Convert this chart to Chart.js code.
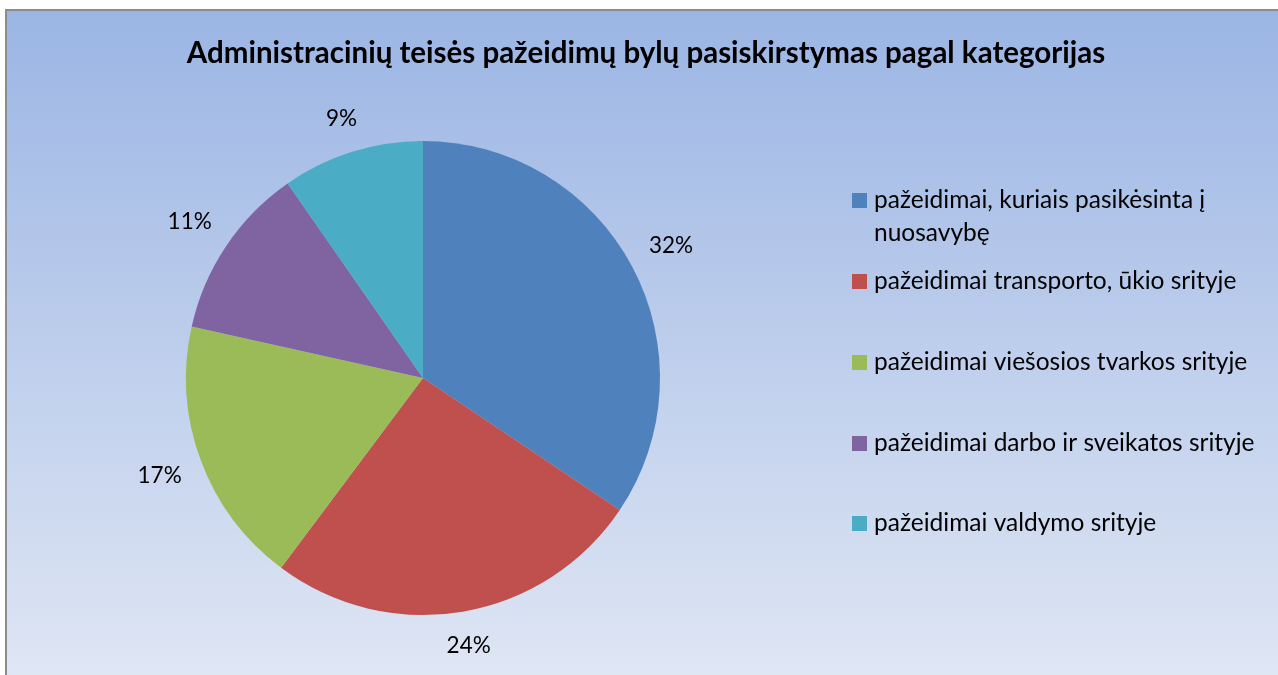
<!DOCTYPE html>
<html>
<head>
<meta charset="utf-8">
<script src="https://cdn.jsdelivr.net/npm/chart.js@4"></script>
<style>
    html, body { margin: 0; padding: 0; background: #fff; overflow: hidden; }
    #wrap { width: 1278px; height: 675px; }
</style>
</head>
<body>
<div id="wrap"><canvas id="pieChart" width="1278" height="675"></canvas></div>
<script>
// chart data
const chartTitle = 'Administracinių teisės pažeidimų bylų pasiskirstymas pagal kategorijas';
const categories = [
    ['pažeidimai, kuriais pasikėsinta į', 'nuosavybę'],
    'pažeidimai transporto, ūkio srityje',
    'pažeidimai viešosios tvarkos srityje',
    'pažeidimai darbo ir sveikatos srityje',
    'pažeidimai valdymo srityje'
];
const shares = [32, 24, 17, 11, 9];
const sliceColors = ['#4f81bd', '#c0504d', '#9bbb59', '#8064a2', '#4bacc6'];

const FONT = 'Lato, "Liberation Sans", sans-serif';

// background with gradient and the grey frame
const frame = {
    id: 'frame',
    beforeDraw (chart) {
        const ctx = chart.ctx;
        const w = chart.width, h = chart.height;
        ctx.save();
        ctx.fillStyle = '#ffffff';
        ctx.fillRect(0, 0, w, h);
        const grad = ctx.createLinearGradient(0, 11, 0, h);
        grad.addColorStop(0, '#9bb5e4');
        grad.addColorStop(1, '#dfe6f4');
        ctx.fillStyle = grad;
        ctx.fillRect(7, 11, w - 7, h - 11);
        ctx.strokeStyle = '#8c8c8c';
        ctx.lineWidth = 2;
        ctx.beginPath();
        ctx.moveTo(6, h);
        ctx.lineTo(6, 10);
        ctx.lineTo(w, 10);
        ctx.stroke();
        ctx.restore();
    }
};

// title, percentage labels and the legend
const annotations = {
    id: 'annotations',
    afterDraw (chart) {
        const ctx = chart.ctx;
        ctx.save();

        ctx.fillStyle = '#000';
        ctx.font = 'bold 29.5px ' + FONT;
        ctx.textAlign = 'center';
        ctx.textBaseline = 'alphabetic';
        ctx.fillText(chartTitle, 646, 63);

        // labels outside the slices
        ctx.font = '22.5px ' + FONT;
        ctx.textBaseline = 'middle';
        const meta = chart.getDatasetMeta(0);
        meta.data.forEach((arc, i) => {
            const mid = (arc.startAngle + arc.endAngle) / 2;
            const text = chart.data.datasets[0].data[i] + '%';
            const tw = ctx.measureText(text).width;
            const cx = Math.cos(mid), cy = Math.sin(mid);
            const ext = Math.abs(cx) * tw / 2 + Math.abs(cy) * 12;
            const d = arc.outerRadius + 19 + ext;
            ctx.fillText(text, arc.x + cx * d, arc.y + cy * d);
        });

        // legend
        ctx.textAlign = 'left';
        ctx.font = '24.5px ' + FONT;
        const rows = [200, 281, 362, 443, 523];
        chart.data.labels.forEach((label, i) => {
            const y = rows[i];
            ctx.fillStyle = sliceColors[i];
            ctx.fillRect(852, y - 7, 15, 15);
            ctx.fillStyle = '#000';
            const lines = Array.isArray(label) ? label : [label];
            lines.forEach((line, j) => ctx.fillText(line, 874, y + j * 33));
        });

        ctx.restore();
    }
};

new Chart(document.getElementById('pieChart').getContext('2d'), {
    type: 'pie',
    data: {
        labels: categories,
        datasets: [{
            data: shares,
            backgroundColor: sliceColors,
            borderWidth: 0
        }]
    },
    options: {
        responsive: false,
        animation: false,
        layout: {
            padding: { top: 141, bottom: 60, left: 186, right: 618 }
        },
        plugins: {
            legend: { display: false },
            tooltip: { enabled: false }
        }
    },
    plugins: [frame, annotations]
});
</script>
</body>
</html>
